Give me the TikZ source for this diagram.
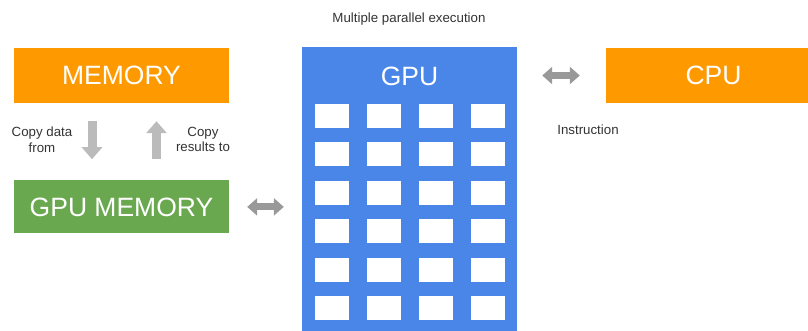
\documentclass[tikz,border=0pt]{standalone}
\usepackage{fontspec}
\setmainfont{Liberation Sans}
\usetikzlibrary{arrows.meta, positioning}
\definecolor{memorange}{HTML}{FF9900}
\definecolor{memgreen}{HTML}{6AA84F}
\definecolor{gpublue}{HTML}{4A86E8}
\definecolor{linkgray}{HTML}{999999}
\definecolor{copygray}{HTML}{BBBBBB}
\definecolor{labelgray}{HTML}{333333}
\tikzset{
    block/.style={rectangle, minimum width=215pt, minimum height=55pt, inner sep=0pt, text=white, font=\fontsize{26.5}{30}\selectfont},
    cell/.style={rectangle, fill=white, minimum width=34pt, minimum height=24pt, inner sep=0pt},
    note/.style={text=labelgray, font=\fontsize{13.3}{15.5}\selectfont, align=center, inner sep=0pt},
    linkarrow/.style={draw=linkgray, line width=7pt, {Triangle[length=10pt,width=17pt]}-{Triangle[length=10pt,width=17pt]}},
    copyarrow/.style={draw=copygray, line width=9pt, -{Triangle[length=12pt,width=20pt]}}
}

\begin{document}
\begin{tikzpicture}[x=1pt, y=-1pt]
    \clip (0,0) rectangle (808,331);

    % Memory side
    \node [block, fill=memorange] (mem) at (121.5,75.5) {MEMORY};
    \node [block, fill=memgreen, minimum height=53pt, below=77pt of mem] (gpumem) {GPU MEMORY};
    \draw [copyarrow, shorten <=18pt, shorten >=21pt] ([xshift=-29.5pt]mem.south) -- ([xshift=-29.5pt]gpumem.north);
    \draw [copyarrow, shorten <=21pt, shorten >=18pt] ([xshift=35pt]gpumem.north) -- ([xshift=35pt]mem.south);
    \node [note] (copyfrom) at (42,139.5) {Copy data\\from};
    \node [note] (copyto) at (203,139.5) {Copy\\results to};

    % GPU with its cores
    \node [block, fill=gpublue, minimum height=286pt] (gpu) at (409.5,190) {};
    \node [block, minimum width=0pt, minimum height=0pt] (gputitle) at ([yshift=-30pt]gpu.north) {GPU};
    \foreach \r in {0,...,5}
        \foreach \c in {0,...,3}
            \node [cell] (cell\r\c) at ({332+52*\c},{116+38.4*\r}) {};
    \node [note] (parallel) at (409,19) {Multiple parallel execution};
    \draw [linkarrow, shorten <=18pt, shorten >=18pt] (gpumem.east) -- (gpumem.east -| gpu.west);

    % CPU
    \node [block, fill=memorange] (cpu) at (713.5,75.5) {CPU};
    \draw [linkarrow, shorten <=25pt, shorten >=26pt] (gpu.east |- cpu.west) -- (cpu.west);
    \node [note] (instr) at (588,130) {Instruction};

\end{tikzpicture}
\end{document}
